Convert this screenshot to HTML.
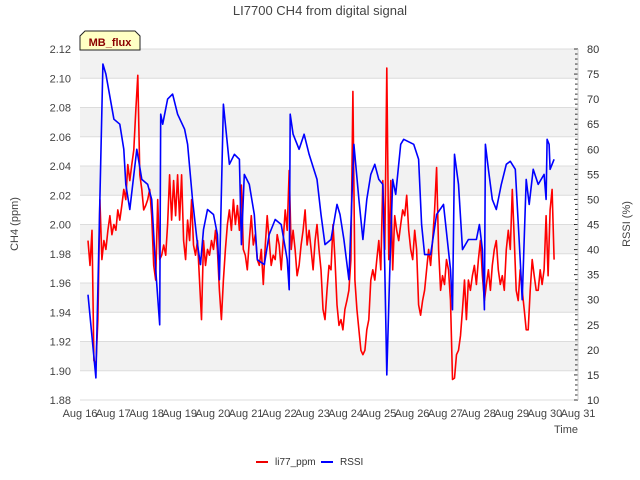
<!DOCTYPE html>
<html><head><meta charset="utf-8"><style>
body{margin:0;background:#fff;}
svg{display:block;font-family:"Liberation Sans","DejaVu Sans",sans-serif;}
</style></head><body>
<svg id="chart" width="640" height="480" xmlns="http://www.w3.org/2000/svg">
<text x="320" y="15" text-anchor="middle" font-size="13" fill="#444">LI7700 CH4 from digital signal</text>
<g id="bands"></g>
<g id="grid"></g>
<g id="series"></g>
<g id="axes"></g>
<text transform="translate(18,224) rotate(-90)" text-anchor="middle" font-size="11" fill="#444">CH4 (ppm)</text>
<text transform="translate(630,224) rotate(-90)" text-anchor="middle" font-size="11" fill="#444">RSSI (%)</text>
<text x="578" y="433" text-anchor="end" font-size="11" fill="#444">Time</text>
<g>
<path d="M80,50 L80,36 L85,31 L135,31 L140,36 L140,50 Z" fill="#ffffc4" stroke="#222" stroke-width="1"/>
<text x="110" y="46" text-anchor="middle" font-size="11" font-weight="bold" fill="#8b0000">MB_flux</text>
</g>
<g>
<g><line x1="256" y1="462" x2="268" y2="462" stroke="#e00" stroke-width="2"/><text x="275" y="465" font-size="10" fill="#333">li77_ppm</text></g>
<g><line x1="321" y1="462" x2="333" y2="462" stroke="#00f" stroke-width="2"/><text x="340" y="465" font-size="10" fill="#333">RSSI</text></g>
</g>
</svg>
<script>
const leftTicks=[1.88,1.90,1.92,1.94,1.96,1.98,2.00,2.02,2.04,2.06,2.08,2.10,2.12];
const rightTicks=[10,15,20,25,30,35,40,45,50,55,60,65,70,75,80];
const xTickLabels=["Aug 16","Aug 17","Aug 18","Aug 19","Aug 20","Aug 21","Aug 22","Aug 23","Aug 24","Aug 25","Aug 26","Aug 27","Aug 28","Aug 29","Aug 30","Aug 31"];
const ch4Start=0.24;
const ch4Step=0.06;
const ch4Values=[1.989,1.972,1.996,1.907,1.904,1.935,
2.017,1.976,1.989,1.983,1.996,2.006,1.993,2.000,1.996,2.010,
2.003,2.013,2.024,2.017,2.041,2.030,2.041,2.051,2.078,2.102,
2.034,2.024,2.010,2.013,2.017,2.024,2.006,1.972,1.962,2.017,
1.976,1.979,1.986,1.979,2.000,2.034,2.003,2.030,2.006,2.034,
2.003,2.034,1.989,1.976,2.003,1.989,2.017,1.986,1.979,1.989,
1.962,1.935,1.989,1.972,1.983,1.979,1.989,1.983,1.996,1.983,
1.955,1.935,1.962,1.983,2.000,2.010,1.996,2.017,2.000,2.013,
1.996,2.027,1.983,1.979,1.969,1.989,2.006,1.986,1.993,1.976,
1.972,1.983,1.959,1.986,2.006,1.989,1.972,1.979,1.976,1.993,
1.986,1.969,1.989,2.010,1.996,2.037,1.983,1.996,1.983,1.965,
1.972,1.986,1.996,2.010,1.986,1.996,1.983,1.969,1.989,2.000,
1.983,1.969,1.942,1.935,1.955,1.972,1.969,2.000,1.976,1.945,
1.931,1.935,1.928,1.942,1.948,1.955,
1.976,2.091,1.962,1.942,1.928,1.914,1.911,1.914,1.928,1.935,
1.962,1.969,1.962,1.976,1.989,1.969,2.030,1.983,2.107,1.976,
2.030,1.969,2.006,1.996,1.989,2.000,2.010,2.006,2.020,1.996,
1.983,1.976,1.996,1.983,1.945,1.938,1.948,1.955,1.969,1.983,
1.972,1.989,2.010,2.039,1.983,1.955,1.965,1.959,1.976,1.969,
1.948,1.894,1.895,1.911,1.914,1.924,1.942,1.962,1.935,1.962,
1.955,1.965,1.972,1.959,1.976,1.989,1.965,1.948,1.959,1.969,
1.955,1.972,1.983,1.989,1.969,1.959,1.965,1.955,1.983,1.996,
1.983,2.024,1.989,1.955,1.948,1.969,1.955,1.942,1.928,1.928,
1.955,1.976,1.965,1.955,1.955,1.969,1.959,1.969,2.006,1.965,
2.010,2.024,1.976];
const rssiDays=[0.24,0.48,0.69,0.78,1.02,1.2,1.32,1.38,1.5,1.71,1.86,2.04,2.16,2.28,2.4,2.43,2.49,2.64,2.79,2.94,3.15,3.24,3.39,3.54,3.63,3.72,3.84,4.02,4.14,4.2,4.32,4.5,4.65,4.8,4.86,4.95,5.1,5.25,5.34,5.55,5.7,5.88,6.06,6.24,6.3,6.33,6.42,6.6,6.75,6.9,7.14,7.26,7.38,7.56,7.74,7.83,7.95,8.1,8.25,8.4,8.52,8.64,8.76,8.88,9.0,9.12,9.18,9.24,9.33,9.42,9.51,9.66,9.75,10.05,10.2,10.29,10.38,10.56,10.74,10.95,11.16,11.22,11.28,11.4,11.52,11.7,11.94,12.03,12.12,12.18,12.21,12.3,12.42,12.54,12.69,12.84,12.96,13.11,13.26,13.32,13.44,13.53,13.65,13.8,13.98,14.04,14.07,14.13,14.16,14.28];
const rssiValues=[31,14.4,77,75,66,65,60,53,48,60,54,53,50,36,25,67,65,70,71,67,64,61,50,41,37,44,48,47,43,34,69,57,59,58,41,55,53,47,38,37,43,46,45,38,32,67,63,60,63,59,54,47,41,42,49,47,42,34,61,50,42,50,55,57,54,53,36,15,36,54,51,61,62,61,58,45,39,39,47,49,36,28,59,53,40,42,42,45,40,28,61,56,50,48,53,57,57.6,56,38,30,54,49,56,53,55,50,62,61,56,58];

const NS="http://www.w3.org/2000/svg";
const X0=80,X1=578,Y0=49,Y1=400;
const xs=d=>X0+(X1-X0)*d/15;
const yl=v=>Y1-(v-1.88)/(2.12-1.88)*(Y1-Y0);
const yr=v=>Y1-(v-10)/(80-10)*(Y1-Y0);
function mk(tag,attrs,parent){const e=document.createElementNS(NS,tag);for(const k in attrs)e.setAttribute(k,attrs[k]);parent.appendChild(e);return e;}
const bands=document.getElementById('bands'),grid=document.getElementById('grid'),axes=document.getElementById('axes'),series=document.getElementById('series');
for(let i=0;i<leftTicks.length-1;i++){
  if(i%2===1){const r=mk('rect',{x:X0,y:yl(leftTicks[i+1]),width:X1-X0,height:yl(leftTicks[i])-yl(leftTicks[i+1]),fill:'#f2f2f2'},bands);
  
  }
}
leftTicks.forEach(v=>{
  const g=mk('line',{x1:X0,x2:X1,y1:yl(v),y2:yl(v),stroke:'#dcdcdc','stroke-width':1},grid);
  
  
  const t=mk('text',{x:71,y:yl(v)+4,'text-anchor':'end','font-size':11,fill:'#444'},axes);
  t.textContent=v.toFixed(2);
  
  
});
for(let v=10;v<=80;v++){
  const major=v%5===0;
  mk('line',{x1:X1-(major?4:3),x2:X1,y1:yr(v),y2:yr(v),stroke:'#333','stroke-width':1},axes);
}
rightTicks.forEach(v=>{
  const t=mk('text',{x:587,y:yr(v)+4,'font-size':11,fill:'#333'},axes);
  t.textContent=v;
  
  
});
mk('line',{x1:X1,x2:X1,y1:Y0,y2:Y1,stroke:'#ccc'},axes);
xTickLabels.forEach((s,i)=>{
  const t=mk('text',{x:xs(i),y:417,'text-anchor':'middle','font-size':11,fill:'#444'},axes);
  t.textContent=s;
  
  
});
const ch4Pts=ch4Values.map((v,i)=>xs(ch4Start+i*ch4Step).toFixed(1)+','+yl(v).toFixed(1)).join(' ');
const pr=mk('polyline',{points:ch4Pts,fill:'none',stroke:'#f00','stroke-width':1.6,'stroke-linejoin':'round'},series);


const rssiPts=rssiValues.map((v,i)=>xs(rssiDays[i]).toFixed(1)+','+yr(v).toFixed(1)).join(' ');
const pb=mk('polyline',{points:rssiPts,fill:'none',stroke:'#00f','stroke-width':1.6,'stroke-linejoin':'round'},series);


</script>
</body></html>
